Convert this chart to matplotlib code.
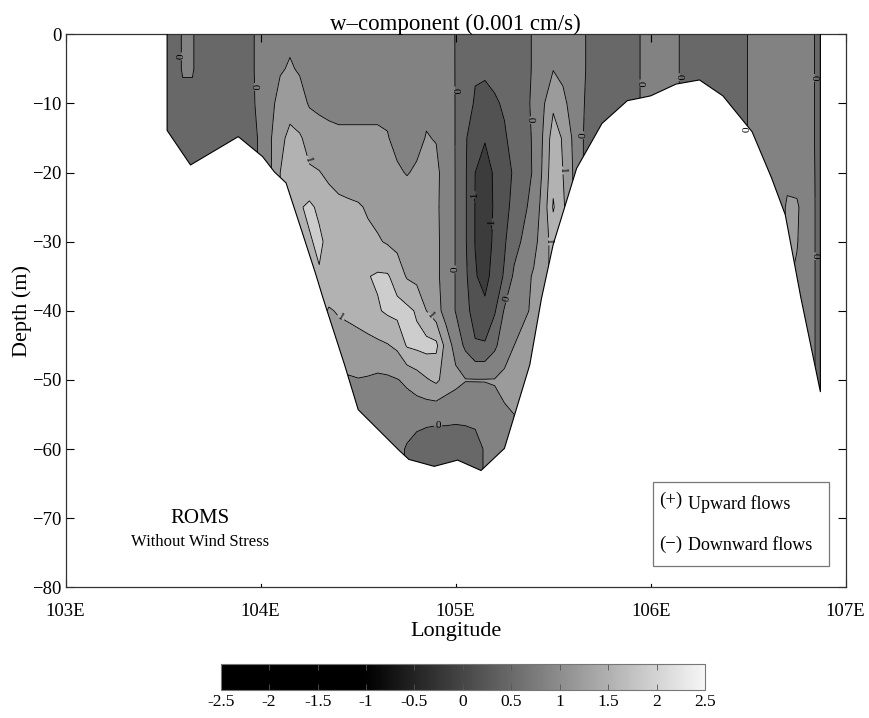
import numpy as np
import matplotlib
matplotlib.use("Agg")
import matplotlib.pyplot as plt
from matplotlib.colors import LinearSegmentedColormap, Normalize
from matplotlib.cm import ScalarMappable
from matplotlib.patches import Rectangle

plt.rcParams['font.family'] = ['Liberation Serif', 'DejaVu Serif']
plt.rcParams['contour.negative_linestyle'] = 'solid'

# model columns (deg E) and depth levels (m)
lon = [103.52, 103.55, 103.60, 103.65, 103.70, 103.75, 103.80, 103.85, 103.90, 103.95,
       104.00, 104.05, 104.10, 104.15, 104.20, 104.25, 104.30, 104.35, 104.40, 104.45,
       104.50, 104.55, 104.60, 104.65, 104.70, 104.75, 104.80, 104.85, 104.90, 104.95,
       105.00, 105.05, 105.10, 105.15, 105.20, 105.25, 105.30, 105.35, 105.40, 105.45,
       105.50, 105.55, 105.60, 105.65, 105.70, 105.75, 105.80, 105.85, 105.90, 105.95,
       106.00, 106.05, 106.10, 106.15, 106.20, 106.25, 106.30, 106.35, 106.40, 106.45,
       106.50, 106.55, 106.60, 106.65, 106.70, 106.75, 106.80, 106.85, 106.87]
depth = [0, -5, -10, -15, -20, -25, -30, -35, -40, -45, -50, -55, -60, -65]

# w (0.001 cm/s), one row per depth level
w = [
    # 0 m
    [-0.3, -0.3, 0.05, 0.05, -0.3, -0.3, -0.3, -0.3, -0.3, -0.1,
     0.2, 0.25, 0.3, 0.4, 0.35, 0.3, 0.3, 0.3, 0.3, 0.3,
     0.3, 0.3, 0.3, 0.3, 0.3, 0.3, 0.3, 0.3, 0.3, 0.2,
     -0.02, -0.2, -0.35, -0.35, -0.3, -0.25, -0.2, -0.15, 0.05, 0.2,
     0.3, 0.25, 0.2, 0.1, -0.2, -0.3, -0.3, -0.3, -0.3, 0.03,
     0.25, 0.25, 0.25, -0.02, -0.3, -0.3, -0.3, -0.3, -0.3, -0.3,
     0.02, 0.25, 0.25, 0.25, 0.25, 0.25, 0.2, -0.05, -0.3],
    # -5 m
    [-0.3, -0.3, 0.05, 0.05, -0.3, -0.3, -0.3, -0.3, -0.3, -0.1,
     0.2, 0.3, 0.45, 0.55, 0.45, 0.38, 0.35, 0.35, 0.35, 0.35,
     0.35, 0.35, 0.35, 0.35, 0.35, 0.35, 0.35, 0.35, 0.35, 0.22,
     -0.02, -0.25, -0.45, -0.45, -0.38, -0.3, -0.22, -0.15, 0.05, 0.3,
     0.48, 0.4, 0.25, 0.1, -0.2, -0.3, -0.3, -0.3, -0.3, 0.03,
     0.25, 0.25, 0.25, -0.02, -0.3, -0.3, -0.3, -0.3, -0.3, -0.3,
     0.02, 0.25, 0.25, 0.25, 0.25, 0.25, 0.2, -0.05, -0.3],
    # -10 m
    [-0.3, -0.3, -0.15, -0.15, -0.3, -0.3, -0.3, -0.3, -0.3, -0.1,
     0.15, 0.35, 0.7, 0.85, 0.7, 0.45, 0.4, 0.4, 0.42, 0.42,
     0.42, 0.42, 0.42, 0.42, 0.4, 0.38, 0.4, 0.42, 0.42, 0.25,
     -0.02, -0.3, -0.55, -0.6, -0.55, -0.45, -0.3, -0.15, 0.1, 0.45,
     0.9, 0.6, 0.35, 0.05, -0.2, -0.3, -0.3, -0.3, -0.3, 0.03,
     0.25, 0.25, 0.25, -0.02, -0.3, -0.3, -0.3, -0.3, -0.3, -0.3,
     0.02, 0.25, 0.25, 0.25, 0.25, 0.25, 0.2, -0.05, -0.3],
    # -15 m
    [-0.3, -0.3, -0.3, -0.3, -0.3, -0.3, -0.3, -0.3, -0.3, -0.1,
     0.05, 0.45, 0.9, 1.1, 1.05, 0.85, 0.7, 0.6, 0.55, 0.55,
     0.55, 0.55, 0.55, 0.52, 0.4, 0.35, 0.4, 0.52, 0.48, 0.25,
     -0.02, -0.45, -0.8, -0.95, -0.8, -0.55, -0.35, -0.15, 0.05, 0.55,
     1.25, 0.95, 0.45, 0.02, -0.2, -0.3, -0.3, -0.3, -0.3, 0.03,
     0.25, 0.25, 0.25, -0.02, -0.3, -0.3, -0.3, -0.3, -0.3, -0.3,
     0.02, 0.25, 0.25, 0.25, 0.25, 0.25, 0.2, -0.05, -0.3],
    # -20 m
    [-0.3, -0.3, -0.3, -0.3, -0.3, -0.3, -0.3, -0.3, -0.3, -0.1,
     0.05, 0.45, 1.0, 1.25, 1.3, 1.05, 1.02, 0.9, 0.75, 0.7,
     0.7, 0.7, 0.7, 0.65, 0.55, 0.48, 0.55, 0.6, 0.6, 0.3,
     -0.02, -0.45, -1.0, -1.3, -0.9, -0.65, -0.45, -0.2, 0.05, 0.6,
     1.35, 1.0, 0.5, 0.02, -0.2, -0.3, -0.3, -0.3, -0.3, 0.03,
     0.25, 0.25, 0.25, -0.02, -0.3, -0.3, -0.3, -0.3, -0.3, -0.3,
     0.02, 0.25, 0.25, 0.3, 0.4, 0.35, 0.25, -0.05, -0.3],
    # -25 m
    [-0.3, -0.3, -0.3, -0.3, -0.3, -0.3, -0.3, -0.3, -0.3, -0.1,
     0.05, 0.45, 1.0, 1.3, 1.45, 1.6, 1.4, 1.2, 1.15, 1.1,
     1.05, 0.95, 0.85, 0.8, 0.75, 0.7, 0.65, 0.62, 0.58, 0.3,
     -0.02, -0.45, -1.02, -1.4, -0.9, -0.6, -0.4, -0.1, 0.2, 0.7,
     1.55, 1.1, 0.5, 0.02, -0.2, -0.3, -0.3, -0.3, -0.3, 0.03,
     0.25, 0.25, 0.25, -0.02, -0.3, -0.3, -0.3, -0.3, -0.3, -0.3,
     0.02, 0.25, 0.25, 0.3, 0.55, 0.55, 0.3, -0.05, -0.3],
    # -30 m
    [-0.3, -0.3, -0.3, -0.3, -0.3, -0.3, -0.3, -0.3, -0.3, -0.1,
     0.05, 0.45, 1.0, 1.3, 1.45, 1.45, 1.6, 1.35, 1.25, 1.2,
     1.15, 1.1, 1.05, 0.95, 0.85, 0.8, 0.75, 0.7, 0.6, 0.3,
     -0.02, -0.45, -1.02, -1.35, -0.85, -0.55, -0.2, 0.1, 0.35, 0.75,
     1.2, 1.1, 0.5, 0.02, -0.2, -0.3, -0.3, -0.3, -0.3, 0.03,
     0.25, 0.25, 0.25, -0.02, -0.3, -0.3, -0.3, -0.3, -0.3, -0.3,
     0.02, 0.25, 0.25, 0.3, 0.55, 0.52, 0.3, -0.05, -0.3],
    # -35 m
    [-0.3, -0.3, -0.3, -0.3, -0.3, -0.3, -0.3, -0.3, -0.3, -0.1,
     0.05, 0.45, 1.0, 1.3, 1.45, 1.45, 1.45, 1.4, 1.35, 1.3,
     1.3, 1.48, 1.56, 1.55, 1.3, 0.95, 0.85, 0.75, 0.6, 0.3,
     -0.02, -0.4, -0.95, -1.2, -0.75, -0.45, 0.1, 0.35, 0.55, 0.75,
     1.2, 1.1, 0.5, 0.02, -0.2, -0.3, -0.3, -0.3, -0.3, 0.03,
     0.25, 0.25, 0.25, -0.02, -0.3, -0.3, -0.3, -0.3, -0.3, -0.3,
     0.02, 0.25, 0.25, 0.3, 0.55, 0.45, 0.3, -0.05, -0.3],
    # -40 m
    [-0.3, -0.3, -0.3, -0.3, -0.3, -0.3, -0.3, -0.3, -0.3, -0.1,
     0.05, 0.45, 1.0, 1.3, 1.45, 1.45, 1.2, 0.95, 1.05, 1.1,
     1.15, 1.2, 1.45, 1.58, 1.65, 1.62, 1.45, 1.0, 0.7, 0.3,
     -0.02, -0.35, -0.7, -0.85, -0.55, 0.05, 0.3, 0.45, 0.55, 0.75,
     1.2, 1.1, 0.5, 0.02, -0.2, -0.3, -0.3, -0.3, -0.3, 0.03,
     0.25, 0.25, 0.25, -0.02, -0.3, -0.3, -0.3, -0.3, -0.3, -0.3,
     0.02, 0.25, 0.25, 0.3, 0.55, 0.45, 0.3, -0.05, -0.3],
    # -45 m
    [-0.3, -0.3, -0.3, -0.3, -0.3, -0.3, -0.3, -0.3, -0.3, -0.1,
     0.05, 0.45, 1.0, 1.3, 1.45, 1.45, 1.2, 0.95, 0.75, 0.8,
     0.85, 0.9, 0.9, 0.97, 1.1, 1.55, 1.62, 1.68, 1.62, 0.8,
     0.3, -0.1, -0.45, -0.45, -0.1, 0.3, 0.5, 0.6, 0.55, 0.75,
     1.2, 1.1, 0.5, 0.02, -0.2, -0.3, -0.3, -0.3, -0.3, 0.03,
     0.25, 0.25, 0.25, -0.02, -0.3, -0.3, -0.3, -0.3, -0.3, -0.3,
     0.02, 0.25, 0.25, 0.3, 0.55, 0.45, 0.3, -0.05, -0.3],
    # -50 m
    [-0.3, -0.3, -0.3, -0.3, -0.3, -0.3, -0.3, -0.3, -0.3, -0.1,
     0.05, 0.45, 1.0, 1.3, 1.45, 1.45, 1.2, 0.95, 0.75, 0.45,
     0.48, 0.45, 0.4, 0.42, 0.48, 0.58, 0.75, 0.95, 1.1, 0.8,
     0.65, 0.52, 0.52, 0.52, 0.52, 0.6, 0.6, 0.55, 0.55, 0.75,
     1.2, 1.1, 0.5, 0.02, -0.2, -0.3, -0.3, -0.3, -0.3, 0.03,
     0.25, 0.25, 0.25, -0.02, -0.3, -0.3, -0.3, -0.3, -0.3, -0.3,
     0.02, 0.25, 0.25, 0.3, 0.55, 0.45, 0.3, -0.05, -0.3],
    # -55 m
    [-0.3, -0.3, -0.3, -0.3, -0.3, -0.3, -0.3, -0.3, -0.3, -0.1,
     0.05, 0.45, 1.0, 1.3, 1.45, 1.45, 1.2, 0.95, 0.75, 0.45,
     0.35, 0.35, 0.35, 0.32, 0.3, 0.25, 0.2, 0.15, 0.12, 0.12,
     0.1, 0.12, 0.15, 0.2, 0.4, 0.45, 0.5, 0.55, 0.55, 0.75,
     1.2, 1.1, 0.5, 0.02, -0.2, -0.3, -0.3, -0.3, -0.3, 0.03,
     0.25, 0.25, 0.25, -0.02, -0.3, -0.3, -0.3, -0.3, -0.3, -0.3,
     0.02, 0.25, 0.25, 0.3, 0.55, 0.45, 0.3, -0.05, -0.3],
    # -60 m
    [-0.3, -0.3, -0.3, -0.3, -0.3, -0.3, -0.3, -0.3, -0.3, -0.1,
     0.05, 0.45, 1.0, 1.3, 1.45, 1.45, 1.2, 0.95, 0.75, 0.45,
     0.35, 0.35, 0.35, 0.32, 0.15, -0.05, -0.2, -0.25, -0.25, -0.25,
     -0.25, -0.25, -0.2, 0.05, 0.2, 0.3, 0.5, 0.55, 0.55, 0.75,
     1.2, 1.1, 0.5, 0.02, -0.2, -0.3, -0.3, -0.3, -0.3, 0.03,
     0.25, 0.25, 0.25, -0.02, -0.3, -0.3, -0.3, -0.3, -0.3, -0.3,
     0.02, 0.25, 0.25, 0.3, 0.55, 0.45, 0.3, -0.05, -0.3],
    # -65 m
    [-0.3, -0.3, -0.3, -0.3, -0.3, -0.3, -0.3, -0.3, -0.3, -0.1,
     0.05, 0.45, 1.0, 1.3, 1.45, 1.45, 1.2, 0.95, 0.75, 0.45,
     0.35, 0.35, 0.35, 0.32, 0.15, -0.05, -0.2, -0.25, -0.25, -0.25,
     -0.25, -0.25, -0.2, 0.05, 0.2, 0.3, 0.5, 0.55, 0.55, 0.75,
     1.2, 1.1, 0.5, 0.02, -0.2, -0.3, -0.3, -0.3, -0.3, 0.03,
     0.25, 0.25, 0.25, -0.02, -0.3, -0.3, -0.3, -0.3, -0.3, -0.3,
     0.02, 0.25, 0.25, 0.3, 0.55, 0.45, 0.3, -0.05, -0.3],
]

# sea floor along the section
bottom_lon = [103.52, 103.64, 103.885, 104.01, 104.07, 104.13, 104.21, 104.28, 104.32,
              104.43, 104.50, 104.71, 104.76, 104.89, 105.01, 105.13, 105.25, 105.38,
              105.44, 105.50, 105.62, 105.75, 105.88, 105.95, 106.00, 106.13, 106.25,
              106.37, 106.52, 106.62, 106.69, 106.77, 106.87]
bottom_depth = [-13.9, -18.9, -14.8, -17.7, -19.9, -21.5, -28.4, -34.5, -38.2,
                -47.8, -54.3, -60.2, -61.5, -62.5, -61.6, -63.1, -59.9, -47.8,
                -38.2, -30.4, -19.4, -12.9, -9.6, -9.2, -8.9, -7.2, -6.6,
                -8.9, -14.1, -20.8, -26.1, -38.1, -51.7]

fill_levels = [-3, -1, -0.5, 0, 0.5, 1, 1.5, 3]
fill_colors = ['#3c3c3c', '#525252', '#686868', '#828282', '#9b9b9b', '#b2b2b2', '#cdcdcd']
labelled_levels = [-1, 0, 1]
plain_levels = [-0.5, 0.5, 1.5]

# where the contour labels sit (lon, depth)
label_pos = [(103.606, -3.2), (103.97, -7.6), (105.0, -8.1), (105.0, -34.0),
             (105.39, -12.4), (105.25, -38.2), (105.665, -14.6), (105.95, -7.1),
             (106.16, -6.2), (106.52, -13.8), (106.83, -6.3), (106.86, -32.1),
             (104.91, -56.9), (104.26, -18.0), (104.41, -41.0), (104.86, -40.9),
             (105.54, -19.7), (105.455, -30.0), (105.105, -23.5), (105.19, -27.4)]

cbar_ticks = [-2.5, -2, -1.5, -1, -0.5, 0, 0.5, 1, 1.5, 2, 2.5]
cbar_labels = ['-2.5', '-2', '-1.5', '-1', '-0.5', '0', '0.5', '1', '1.5', '2', '2.5']

fig = plt.figure(figsize=(8.69, 7.18), dpi=100)
ax = fig.add_axes([0.0756, 0.182, 0.8976, 0.7702])

X, Z = np.meshgrid(lon, depth)
W = np.array(w)
ax.contourf(X, Z, W, levels=fill_levels, colors=fill_colors, zorder=1)
ax.contour(X, Z, W, levels=plain_levels, colors='black', linewidths=0.6, zorder=2)
cs = ax.contour(X, Z, W, levels=labelled_levels, colors='black', linewidths=0.6, zorder=2)

# blank out everything below the sea floor (a little wider than the grid)
poly_x = [bottom_lon[0] - 0.05] + bottom_lon + [bottom_lon[-1] + 0.05] * 2 + [bottom_lon[0] - 0.05]
poly_y = [bottom_depth[0]] + bottom_depth + [bottom_depth[-1], -79.5, -79.5]
ax.fill(poly_x, poly_y, color='white', zorder=2.5, lw=0)
ax.plot([bottom_lon[0]] + bottom_lon + [bottom_lon[-1]],
        [0] + bottom_depth + [0], color='black', lw=0.8, zorder=2.6)

txts = ax.clabel(cs, manual=label_pos, fontsize=8, inline=True,
                 inline_spacing=2, fmt='%g')
for t in txts:
    t.set_zorder(3)

ax.set_xlim(103, 107)
ax.set_ylim(-80, 0)
ax.set_xticks([103, 104, 105, 106, 107])
ax.set_xticklabels(['103E', '104E', '105E', '106E', '107E'])
ax.set_yticks([0, -10, -20, -30, -40, -50, -60, -70, -80])
ax.tick_params(direction='in', top=True, right=True, length=6, width=0.8,
               labelsize=13.5)
ax.tick_params(axis='x', pad=11)
ax.tick_params(axis='y', pad=3)
for s in ax.spines.values():
    s.set_linewidth(0.9)
    s.set_color('#333333')

ax.set_title('w\u2013component (0.001 cm/s)', fontsize=16.5, pad=3)
ax.set_xlabel('Longitude', fontsize=16, labelpad=2)
ax.set_ylabel('Depth (m)', fontsize=16, labelpad=0)

ax.text(0.172, 0.125, 'ROMS', transform=ax.transAxes, ha='center', va='center', fontsize=15)
ax.text(0.172, 0.082, 'Without Wind Stress', transform=ax.transAxes, ha='center',
        va='center', fontsize=12)

ax.add_patch(Rectangle((0.7526, 0.0385), 0.2264, 0.1515, transform=ax.transAxes,
                       facecolor='white', edgecolor='#777777', lw=0.9, zorder=4))
ax.text(0.761, 0.157, '(+)', transform=ax.transAxes, va='center', fontsize=13.5, zorder=5)
ax.text(0.798, 0.150, 'Upward flows', transform=ax.transAxes, va='center', fontsize=13, zorder=5)
ax.text(0.761, 0.078, '(\u2212)', transform=ax.transAxes, va='center', fontsize=13.5, zorder=5)
ax.text(0.798, 0.075, 'Downward flows', transform=ax.transAxes, va='center', fontsize=13, zorder=5)

# colour bar
cax = fig.add_axes([0.2539, 0.039, 0.5577, 0.0362])
cmap = LinearSegmentedColormap.from_list('wgray', [(0.0, 'black'), (0.3, 'black'),
                                                  (1.0, '#f6f6f6')])
sm = ScalarMappable(norm=Normalize(-2.5, 2.5), cmap=cmap)
cb = fig.colorbar(sm, cax=cax, orientation='horizontal')
cb.set_ticks(cbar_ticks)
cb.set_ticklabels(cbar_labels)
cax.tick_params(direction='in', top=True, bottom=True, length=4, width=0.6,
                color='#555555', labelsize=12.5, pad=3)
cb.outline.set_edgecolor('#777777')
cb.outline.set_linewidth(0.8)

fig.savefig('out.png', dpi=100)
